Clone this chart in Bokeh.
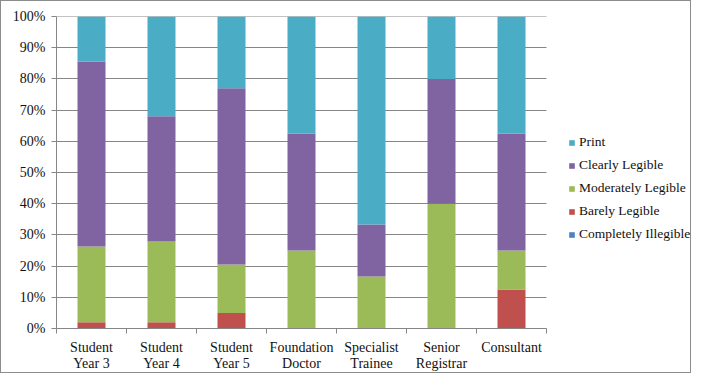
from bokeh.plotting import figure
from bokeh.models import (Range1d, FixedTicker, NumeralTickFormatter, Legend, LegendItem,
                          ColumnDataSource, LinearAxis)
from bokeh.embed import file_html
from bokeh.resources import INLINE

categories = ["Student\nYear 3", "Student\nYear 4", "Student\nYear 5", "Foundation\nDoctor",
              "Specialist\nTrainee", "Senior\nRegistrar", "Consultant"]
series = ["Completely Illegible", "Barely Legible", "Moderately Legible", "Clearly Legible", "Print"]
colors = ["#4F81BD", "#C0504D", "#9BBB59", "#8064A2", "#4BACC6"]

completely_illegible = [0.0, 0.0, 0.0, 0.0, 0.0, 0.0, 0.0]
barely_legible = [0.020, 0.020, 0.050, 0.0, 0.0, 0.0, 0.125]
moderately_legible = [0.243, 0.259, 0.155, 0.250, 0.167, 0.400, 0.125]
clearly_legible = [0.593, 0.401, 0.565, 0.375, 0.166, 0.400, 0.375]
print_ = [0.144, 0.320, 0.230, 0.375, 0.667, 0.200, 0.375]
y_ticks = [0.0, 0.1, 0.2, 0.3, 0.4, 0.5, 0.6, 0.7, 0.8, 0.9, 1.0]

n = len(categories)
xs = [i + 0.5 for i in range(n)]
src = ColumnDataSource(dict(x=xs, **{
    "Completely Illegible": completely_illegible,
    "Barely Legible": barely_legible,
    "Moderately Legible": moderately_legible,
    "Clearly Legible": clearly_legible,
    "Print": print_,
}))

FONT = "Liberation Serif"
FS = "14px"
GRAY = "#868686"
TXT = "#111111"

W, H = 691, 373
LEFT = 55
CAT_PX = 70  # pixels per category
x_end = (W - LEFT) / CAT_PX  # extra room on the right holds the legend

p = figure(width=W, height=H, output_backend="svg", toolbar_location=None,
           x_range=Range1d(0, x_end), y_range=Range1d(0, 1),
           min_border_left=LEFT, min_border_right=0, min_border_top=15, min_border_bottom=38)
p.styles = {"border": "1px solid #8c8c8c"}
p.outline_line_color = None
p.background_fill_color = "white"
p.border_fill_color = "white"

renderers = p.vbar_stack(series, x="x", width=0.4, color=colors, source=src, line_color=None)

p.xgrid.visible = False
p.ygrid.visible = False

xa = p.xaxis[0]
xa.bounds = (0, n)
xa.ticker = FixedTicker(ticks=xs, minor_ticks=list(range(n + 1)))
xa.major_label_overrides = {x: c for x, c in zip(xs, categories)}
xa.major_tick_line_color = None
xa.major_tick_out = 0
xa.major_tick_in = 0
xa.minor_tick_line_color = GRAY
xa.minor_tick_out = 5
xa.minor_tick_in = 0
xa.axis_line_color = GRAY
xa.major_label_text_font = FONT
xa.major_label_text_font_size = FS
xa.major_label_text_color = TXT
xa.major_label_text_line_height = 1.1
xa.major_label_standoff = 6

ya = p.yaxis[0]
ya.ticker = FixedTicker(ticks=y_ticks)
ya.formatter = NumeralTickFormatter(format="0%")
ya.axis_line_color = GRAY
ya.major_tick_line_color = GRAY
ya.major_tick_out = 5
ya.major_tick_in = 0
ya.minor_tick_line_color = None
ya.major_label_text_font = FONT
ya.major_label_text_font_size = FS
ya.major_label_text_color = TXT
ya.major_label_standoff = 6

# grid lines: long inward ticks of an unlabeled axis beneath the bars,
# so that they stop at the last category as in the reference
grid_axis = LinearAxis(ticker=FixedTicker(ticks=y_ticks), level="underlay",
                       axis_line_color=None, major_tick_line_color=GRAY,
                       major_tick_in=n * CAT_PX, major_tick_out=0,
                       minor_tick_line_color=None, major_label_standoff=0,
                       major_label_text_font_size="0px", major_label_text_alpha=0)
p.add_layout(grid_axis, "left")
p.left = [grid_axis, ya]

items = [LegendItem(label=s, renderers=[r]) for s, r in zip(series, renderers)][::-1]
legend = Legend(items=items, location=(512, 86), padding=0, margin=0,
                border_line_color=None, background_fill_alpha=0,
                glyph_width=7, glyph_height=7, label_standoff=4,
                label_height=14, spacing=7,
                label_text_font=FONT, label_text_font_size="13.5px", label_text_color=TXT)
p.add_layout(legend, "center")

open("out.html", "w").write(file_html(p, INLINE))
